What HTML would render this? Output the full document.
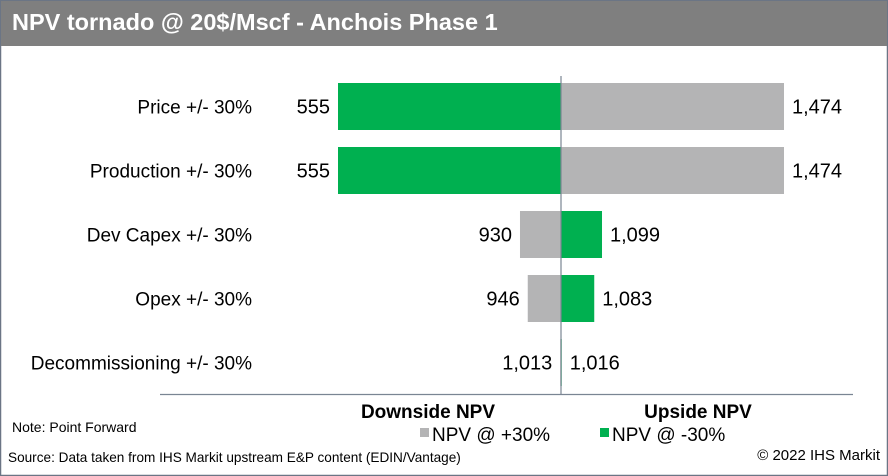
<!DOCTYPE html>
<html><head><meta charset="utf-8"><style>
html,body{margin:0;padding:0;background:#fff}
svg{display:block;font-family:"Liberation Sans Narrow","Liberation Sans",sans-serif}
</style></head><body>
<svg width="888" height="476" viewBox="0 0 888 476">
<rect x="0.5" y="0.5" width="887" height="475" fill="#fff" stroke="#6b7585" stroke-width="1.5"/>
<rect x="1" y="1" width="886" height="45" fill="#7f7f7f"/>
<text x="12" y="30" fill="#fff" font-size="23.5" font-weight="bold">NPV tornado @ 20$/Mscf - Anchois Phase 1</text>
<g id="plot"></g>
<line x1="561" y1="76" x2="561" y2="395" stroke="#7a8593" stroke-width="1.2"/>
<line x1="160" y1="394.5" x2="853" y2="394.5" stroke="#7a8593" stroke-width="1.2"/>
<text x="428" y="418" font-size="19" font-weight="bold" text-anchor="middle">Downside NPV</text>
<text x="698" y="418" font-size="19" font-weight="bold" text-anchor="middle">Upside NPV</text>
<rect x="420" y="428" width="9" height="9" fill="#b4b4b5"/>
<text x="432" y="441" font-size="19">NPV @ +30%</text>
<rect x="600" y="428" width="9" height="9" fill="#00b050"/>
<text x="612" y="441" font-size="19">NPV @ -30%</text>
<text x="12" y="432" font-size="14">Note: Point Forward</text>
<text x="8" y="462" font-size="13.6">Source: Data taken from IHS Markit upstream E&amp;P content (EDIN/Vantage)</text>
<text x="880" y="460" font-size="15" text-anchor="end">© 2022 IHS Markit</text>
</svg>
<script>
const categories=["Price +/- 30%","Production +/- 30%","Dev Capex +/- 30%","Opex +/- 30%","Decommissioning +/- 30%"];
const npvPlus30=[1474,1474,930,946,1013];
const npvMinus30=[555,555,1099,1083,1016];
const baseNPV=1014.5;
const ns="http://www.w3.org/2000/svg";
const g=document.getElementById('plot');
const cx=561, k=223/459.5;
const xs=v=>cx+(v-baseNPV)*k;
const rowY=i=>83+i*64, bh=47;
const fmt=v=>v.toLocaleString('en-US');
function mk(t,a){const e=document.createElementNS(ns,t);for(const n in a)e.setAttribute(n,a[n]);g.appendChild(e);return e;}
categories.forEach((c,i)=>{
  const y=rowY(i);
  const lab=mk('text',{x:252,y:y+bh/2+7,'font-size':19,'text-anchor':'end'});
  lab.textContent=c;
  
  
  [[npvPlus30[i],'#b4b4b5','bar-plus30'],[npvMinus30[i],'#00b050','bar-minus30']].forEach(([v,col,nm])=>{
    const x=xs(v), x0=Math.min(x,cx), w=Math.abs(x-cx);
    const r=mk('rect',{x:x0,y:y,width:w,height:bh,fill:col});
    
    
    const left=v<baseNPV;
    const t=mk('text',{x:left?x-8:x+8,y:y+bh/2+7,'font-size':20,'text-anchor':left?'end':'start'});
    t.textContent=fmt(v);
    
    
  });
});
</script>
</body></html>
